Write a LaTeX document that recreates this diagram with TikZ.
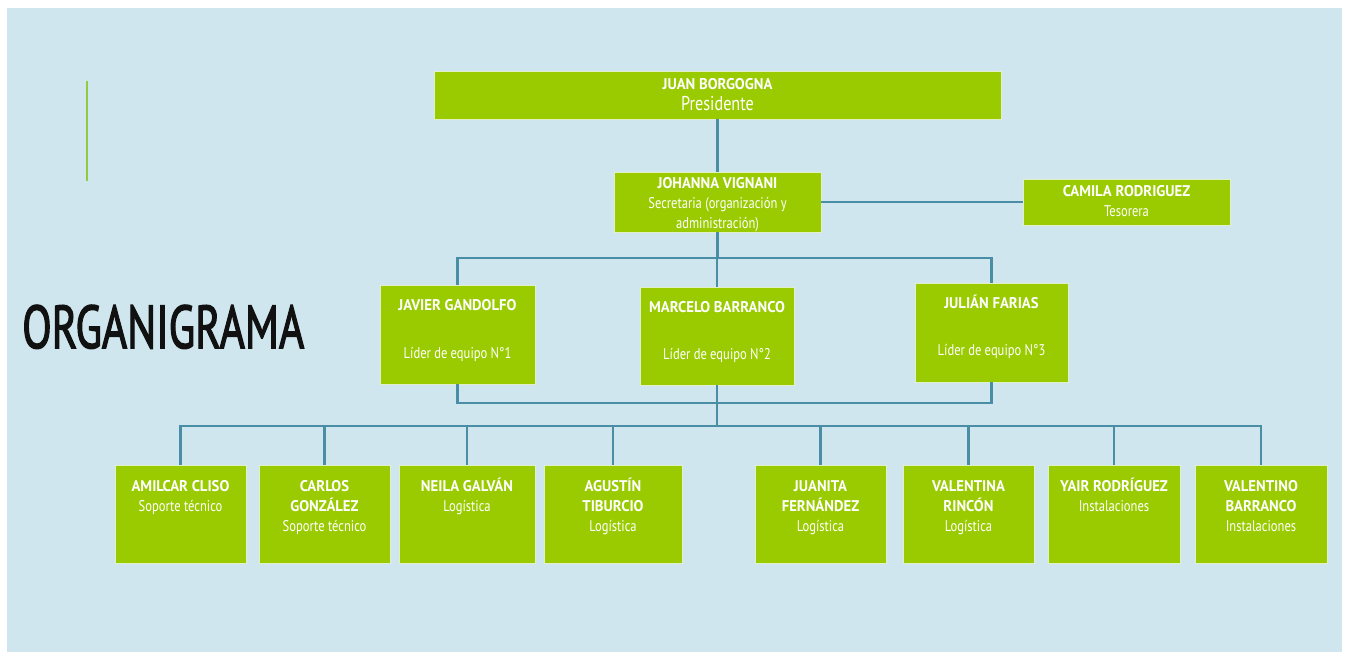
\documentclass[tikz,border=0pt]{standalone}
\usepackage{fontspec}
\usepackage{graphicx}
\setmainfont{PT Sans}
\newfontfamily\boxfont[FakeStretch=0.81]{PT Sans}
\newfontfamily\boxbold[FakeStretch=0.95]{PT Sans Bold}
\newfontfamily\titlefont[FakeBold=2.5]{PT Sans}
\definecolor{bgblue}{RGB}{207,230,238}
\definecolor{boxgreen}{RGB}{154,203,0}
\definecolor{boxedge}{RGB}{226,240,200}
\definecolor{connc}{RGB}{74,142,165}
\definecolor{accentgreen}{RGB}{146,204,60}
\definecolor{titleink}{RGB}{17,17,17}
% width, height, top gap, content
\newcommand{\orgt}[4]{\parbox[c][#2pt][t]{#1pt}{\centering\vspace*{#3pt}\strut #4}}
\newcommand{\nm}[1]{{\boxbold #1}}
\tikzset{
  orgbox/.style={fill=boxgreen, draw=boxedge, line width=0.8pt, inner sep=0pt,
    text=white, font=\boxfont\fontsize{15.5}{20}\selectfont},
  conn/.style={draw=connc, line width=2.6pt},
}
\begin{document}
\begin{tikzpicture}[x=1pt,y=-1pt]
\useasboundingbox (0,0) rectangle (1347,653);
\fill[white] (0,0) rectangle (1347,653);
\fill[bgblue] (7,8) rectangle (1342,652);
% accent bar and title
\draw[accentgreen, line width=2.5pt] (87,81) -- (87,181);
\node[anchor=base west, inner sep=0pt, text=titleink] (title) at (22,348)
  {\resizebox{282pt}{43pt}{\titlefont ORGANIGRAMA}};
% boxes
\node[orgbox] (juan) at (717.5,95) {\orgt{567}{48}{4}{\nm{JUAN BORGOGNA}\\{\fontsize{20}{20}\selectfont Presidente}}};
\node[orgbox] (johanna) at (717.5,202) {\orgt{207}{60}{2}{\nm{JOHANNA VIGNANI}\\Secretaria (organización y\\administración)}};
\node[orgbox] (camila) at (1126.5,202) {\orgt{207}{46}{3}{\nm{CAMILA RODRIGUEZ}\\Tesorera}};
\node[orgbox] (javier) at (457.5,334.5) {\orgt{155}{99}{11}{\nm{JAVIER GANDOLFO}\\[28pt]Líder de equipo N°1}};
\node[orgbox] (marcelo) at (717,336) {\orgt{154}{98}{11}{\nm{MARCELO BARRANCO}\\[27pt]Líder de equipo N°2}};
\node[orgbox] (julian) at (991.5,332.5) {\orgt{153}{99}{11}{\nm{JULIÁN FARIAS}\\[27pt]Líder de equipo N°3}};
\node[orgbox] (amilcar) at (180.5,514) {\orgt{131}{98}{12}{\nm{AMILCAR CLISO}\\Soporte técnico}};
\node[orgbox] (carlos) at (324.5,514) {\orgt{131}{98}{12}{\nm{CARLOS}\\\nm{GONZÁLEZ}\\Soporte técnico}};
\node[orgbox] (neila) at (467,514) {\orgt{136}{98}{12}{\nm{NEILA GALVÁN}\\Logística}};
\node[orgbox] (agustin) at (613,514) {\orgt{138}{98}{12}{\nm{AGUSTÍN}\\\nm{TIBURCIO}\\Logística}};
\node[orgbox] (juanita) at (820.5,514) {\orgt{131}{98}{12}{\nm{JUANITA}\\\nm{FERNÁNDEZ}\\Logística}};
\node[orgbox] (valentina) at (968.5,514) {\orgt{131}{98}{12}{\nm{VALENTINA}\\\nm{RINCÓN}\\Logística}};
\node[orgbox] (yair) at (1114,514) {\orgt{132}{98}{12}{\nm{YAIR RODRÍGUEZ}\\Instalaciones}};
\node[orgbox] (valentino) at (1261,514) {\orgt{132}{98}{12}{\nm{VALENTINO}\\\nm{BARRANCO}\\Instalaciones}};
% bus coordinates
\coordinate (busA) at (0,258);
\coordinate (busB) at (0,403);
\coordinate (busC) at (0,426);
% connectors
\draw[conn] (juan.south) -- (johanna.north);
\draw[conn] (johanna.east) -- (camila.west);
\draw[conn] (johanna.south) -- (johanna.south |- busA);
\draw[conn] (javier.north) |- (busA -| marcelo.north) -| (julian.north);
\draw[conn] (marcelo.north) -- (marcelo.north |- busA);
\draw[conn] (javier.south) |- (busB -| marcelo.south) -| (julian.south);
\draw[conn] (marcelo.south) -- (marcelo.south |- busC);
\draw[conn] (amilcar.north) |- (busC -| marcelo.south) -| (valentino.north);
\foreach \b in {carlos,neila,agustin,juanita,valentina,yair}
  \draw[conn] (\b.north) -- (\b.north |- busC);
\end{tikzpicture}
\end{document}
